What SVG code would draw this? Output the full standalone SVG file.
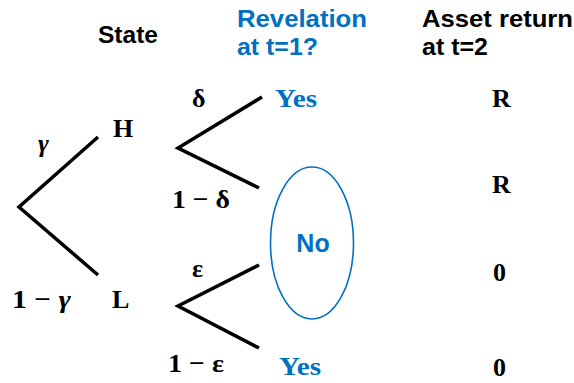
<svg xmlns="http://www.w3.org/2000/svg" width="574" height="383" viewBox="0 0 574 383">
<style>
.hd{font-family:"Liberation Sans",Arial,sans-serif;font-weight:bold;font-size:24px}
.m{font-family:"Liberation Serif","DejaVu Serif",serif;font-weight:bold;font-size:26px}
.blk{fill:#000}
.blu{fill:#0070C0}
.br{fill:none;stroke:#000;stroke-width:3.5;stroke-linecap:butt}
</style>
<rect width="574" height="383" fill="#fff"/>
<g id="headers">
<text class="hd blk" x="98" y="43" textLength="60" lengthAdjust="spacingAndGlyphs">State</text>
<text class="hd blu" x="237" y="27" textLength="130" lengthAdjust="spacingAndGlyphs">Revelation</text>
<text class="hd blu" x="237" y="55" textLength="81" lengthAdjust="spacingAndGlyphs">at t=1?</text>
<text class="hd blk" x="422" y="27" textLength="151" lengthAdjust="spacingAndGlyphs">Asset return</text>
<text class="hd blk" x="422" y="55" textLength="66" lengthAdjust="spacingAndGlyphs">at t=2</text>
</g>
<g id="connectors">
<polyline class="br" points="98,137 19,207 98,275"/>
<polyline class="br" points="262,97 178,148 259,188"/>
<polyline class="br" points="259,265 178,306 259,348"/>
</g>
<g id="root-labels">
<text class="m blk" x="38" y="152" font-style="italic">γ</text>
<text class="m blk" x="12" y="308" textLength="59" lengthAdjust="spacingAndGlyphs">1 − <tspan font-style="italic">γ</tspan></text>
</g>
<g id="node-H"><text class="m blk" x="113" y="137">H</text></g>
<g id="node-L"><text class="m blk" x="112" y="308">L</text></g>
<g id="H-labels">
<text class="m blk" x="192" y="107">δ</text>
<text class="m blk" x="172" y="208" textLength="58" lengthAdjust="spacingAndGlyphs">1 − δ</text>
</g>
<g id="L-labels">
<text class="m blk" x="192" y="277">ε</text>
<text class="m blk" x="168" y="372" textLength="56" lengthAdjust="spacingAndGlyphs">1 − ε</text>
</g>
<g id="yes-top"><text class="m blu" x="275" y="107" textLength="42" lengthAdjust="spacingAndGlyphs">Yes</text></g>
<g id="no-node">
<ellipse cx="312" cy="243" rx="41.5" ry="76" fill="none" stroke="#0070C0" stroke-width="1.6"/>
<text class="hd blu" x="313" y="252" text-anchor="middle" style="font-size:25px">No</text>
</g>
<g id="yes-bottom"><text class="m blu" x="279" y="375" textLength="42" lengthAdjust="spacingAndGlyphs">Yes</text></g>
<g id="returns">
<text class="m blk" x="492" y="107">R</text>
<text class="m blk" x="492" y="193">R</text>
<text class="m blk" x="493" y="281">0</text>
<text class="m blk" x="493" y="376">0</text>
</g>
</svg>
